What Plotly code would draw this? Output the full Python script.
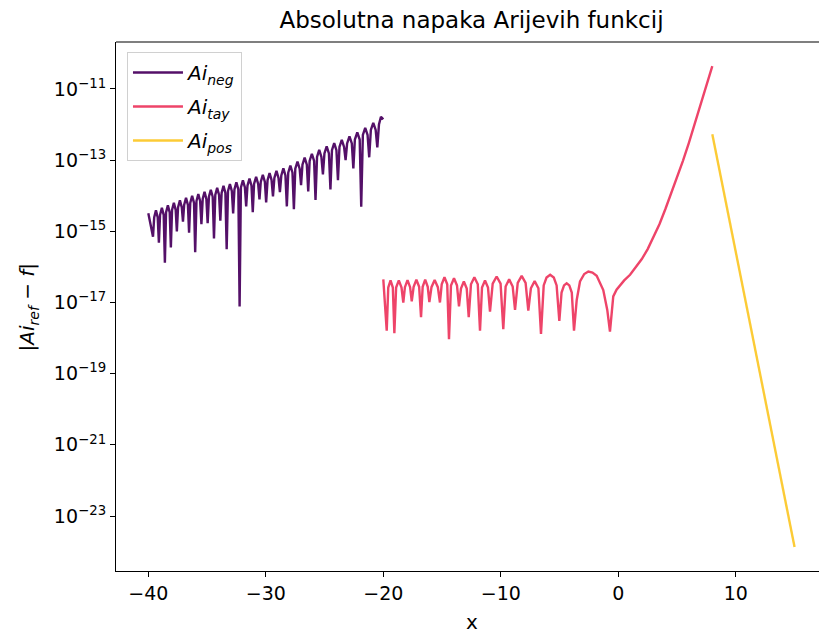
import plotly.graph_objects as go

# ---------------- data (log10 of absolute error) ----------------
neg_x = [-40.00, -39.60,
         -39.50, -39.35, -39.20, -39.10,
         -39.00, -38.845, -38.69, -38.59,
         -38.49, -38.335, -38.18, -38.08,
         -37.98, -37.825, -37.67, -37.57,
         -37.47, -37.31, -37.15, -37.05,
         -36.95, -36.79, -36.63, -36.53,
         -36.43, -36.27, -36.11, -36.01,
         -35.90, -35.745, -35.59, -35.48,
         -35.37, -35.215, -35.06, -34.95,
         -34.84, -34.68, -34.52, -34.41,
         -34.30, -34.14, -33.98, -33.87,
         -33.76, -33.60, -33.44, -33.33,
         -33.22, -33.055, -32.89, -32.78,
         -32.67, -32.505, -32.34, -32.23,
         -32.12, -31.95, -31.78, -31.67,
         -31.56, -31.39, -31.22, -31.11,
         -31.00, -30.825, -30.65, -30.54,
         -30.43, -30.255, -30.08, -29.97,
         -29.85, -29.68, -29.51, -29.39,
         -29.27, -29.095, -28.92, -28.80,
         -28.68, -28.505, -28.33, -28.21,
         -28.09, -27.91, -27.73, -27.61,
         -27.49, -27.305, -27.12, -27.00,
         -26.88, -26.695, -26.51, -26.39,
         -26.27, -26.08, -25.89, -25.77,
         -25.64, -25.455, -25.27, -25.14,
         -25.01, -24.82, -24.63, -24.50,
         -24.37, -24.18, -23.99, -23.86,
         -23.73, -23.535, -23.34, -23.21,
         -23.08, -22.88, -22.68, -22.55,
         -22.42, -22.215, -22.01, -21.88,
         -21.74, -21.54, -21.34, -21.20,
         -21.06, -20.855, -20.65, -20.51,
         -20.37, -20.20, -20.00]
neg_logy = [-14.49, -15.15,
            -14.61, -14.41, -14.61, -15.32,
            -14.54, -14.34, -14.54, -15.88,
            -14.47, -14.27, -14.47, -15.45,
            -14.40, -14.20, -14.40, -15.00,
            -14.33, -14.13, -14.33, -14.73,
            -14.26, -14.06, -14.26, -15.04,
            -14.20, -14.00, -14.20, -15.59,
            -14.15, -13.95, -14.15, -14.80,
            -14.09, -13.89, -14.09, -14.77,
            -14.03, -13.83, -14.03, -15.20,
            -13.98, -13.78, -13.98, -14.70,
            -13.92, -13.72, -13.92, -15.50,
            -13.87, -13.67, -13.87, -14.50,
            -13.82, -13.62, -13.82, -17.11,
            -13.77, -13.57, -13.77, -14.30,
            -13.72, -13.52, -13.72, -14.46,
            -13.67, -13.47, -13.67, -14.10,
            -13.61, -13.41, -13.61, -14.19,
            -13.56, -13.36, -13.56, -14.02,
            -13.50, -13.30, -13.50, -13.90,
            -13.43, -13.23, -13.43, -14.30,
            -13.35, -13.15, -13.35, -14.38,
            -13.24, -13.04, -13.24, -13.70,
            -13.13, -12.93, -13.13, -13.88,
            -13.02, -12.82, -13.02, -14.12,
            -12.91, -12.71, -12.91, -13.40,
            -12.81, -12.61, -12.81, -13.82,
            -12.72, -12.52, -12.72, -13.56,
            -12.63, -12.43, -12.63, -13.00,
            -12.53, -12.33, -12.53, -13.23,
            -12.42, -12.22, -12.42, -14.31,
            -12.29, -12.09, -12.29, -12.92,
            -12.15, -11.95, -12.15, -12.64,
            -12.00, -11.78, -11.85]

tay_x = [-20.00, -19.71,
         -19.58, -19.385, -19.19, -19.06,
         -18.91, -18.68, -18.45, -18.30,
         -18.16, -17.94, -17.72, -17.58,
         -17.42, -17.185, -16.95, -16.79,
         -16.65, -16.435, -16.22, -16.08,
         -15.90, -15.63, -15.36, -15.18,
         -15.03, -14.795, -14.56, -14.41,
         -14.24, -13.985, -13.73, -13.56,
         -13.39, -13.145, -12.90, -12.73,
         -12.54, -12.25, -11.96, -11.77,
         -11.60, -11.345, -11.09, -10.92,
         -10.69, -10.355, -10.02, -9.79,
         -9.59, -9.29, -8.99, -8.79,
         -8.56, -8.225, -7.89, -7.66,
         -7.44, -7.12, -6.80, -6.58,
         -6.35, -6.11, -5.80, -5.49, -5.25, -5.02,
         -4.83, -4.62, -4.395, -4.17, -3.96, -3.77,
         -3.54, -3.26, -2.90, -2.55, -2.20, -1.84, -1.28, -0.94, -0.71,
         -0.43, -0.15, 0.14, 0.50, 1.00, 1.50, 2.00, 2.50, 3.00, 3.50, 4.00,
         4.50, 5.00, 5.50, 6.00, 6.50, 7.00, 7.50, 8.00]
tay_logy = [-16.35, -17.79,
            -16.58, -16.38, -16.58, -17.86,
            -16.58, -16.38, -16.58, -17.00,
            -16.57, -16.37, -16.57, -16.97,
            -16.56, -16.36, -16.56, -17.41,
            -16.56, -16.36, -16.56, -16.99,
            -16.57, -16.37, -16.57, -17.00,
            -16.49, -16.29, -16.49, -18.03,
            -16.52, -16.32, -16.52, -17.11,
            -16.61, -16.41, -16.61, -17.41,
            -16.49, -16.29, -16.49, -17.79,
            -16.58, -16.38, -16.58, -17.26,
            -16.47, -16.27, -16.47, -17.75,
            -16.55, -16.35, -16.55, -17.21,
            -16.45, -16.25, -16.45, -17.23,
            -16.60, -16.40, -16.60, -17.88,
            -16.52, -16.30, -16.22, -16.30, -16.52, -17.52,
            -16.72, -16.52, -16.46, -16.52, -16.72, -17.79,
            -16.93, -16.41, -16.20, -16.13, -16.16, -16.25, -16.65, -17.21, -17.82,
            -16.83, -16.64, -16.51, -16.38, -16.22, -16.01, -15.78, -15.50, -15.17, -14.80, -14.38,
            -13.94, -13.48, -13.02, -12.52, -11.98, -11.44, -10.90, -10.36]

pos_x = [8.00, 15.00]
pos_logy = [-12.27, -23.87]

ytick_exp = [-11, -13, -15, -17, -19, -21, -23]
xtick_vals = [-40, -30, -20, -10, 0, 10]

series_names = ["<i>Ai</i><sub><i>neg</i></sub>",
                "<i>Ai</i><sub><i>tay</i></sub>",
                "<i>Ai</i><sub><i>pos</i></sub>"]
colors = ["#541068", "#ee4469", "#fccb36"]

FONT = "DejaVu Sans"

fig = go.Figure()
for i, (xs, ly) in enumerate([(neg_x, neg_logy), (tay_x, tay_logy), (pos_x, pos_logy)]):
    fig.add_trace(go.Scatter(
        x=xs, y=[10 ** v for v in ly], mode="lines", name=series_names[i],
        line=dict(color=colors[i], width=2.4), legendgroup=str(i)))

fig.update_layout(
    width=819, height=634,
    margin=dict(l=116, r=0, t=42, b=63),
    paper_bgcolor="white", plot_bgcolor="white",
    font=dict(family=FONT, size=19, color="black"),
    showlegend=True,
    legend=dict(x=0.0156, y=0.981, xanchor="left", yanchor="top",
                bgcolor="rgba(255,255,255,0.8)", bordercolor="#d0d0d0", borderwidth=1,
                font=dict(family=FONT, size=20), tracegroupgap=5, itemwidth=50),
    title=dict(text="Absolutna napaka Arijevih funkcij", x=0.5057, xref="paper",
               xanchor="center", y=1 - 20 / 634, yref="container", yanchor="middle",
               font=dict(family=FONT, size=23)),
    annotations=[
        dict(text="x", xref="paper", yref="paper", x=0.5057, y=-0.0964,
             xanchor="center", yanchor="middle", showarrow=False,
             font=dict(family=FONT, size=20)),
        dict(text="|<i>Ai</i><sub><i>ref</i></sub> − <i>f</i>|", xref="paper", yref="paper",
             x=-0.1252, y=0.5, xanchor="center", yanchor="middle", textangle=-90,
             showarrow=False, font=dict(family=FONT, size=20)),
    ],
    shapes=[dict(type="line", xref="paper", yref="paper", x0=0, x1=1, y0=1, y1=1,
                 line=dict(color="black", width=1.2))],
)
fig.update_xaxes(range=[-42.75, 17.08], showgrid=False, zeroline=False,
                 showline=True, linecolor="black", linewidth=1.2, mirror=False,
                 ticks="outside", ticklen=5, tickwidth=1.2, tickcolor="black",
                 tickvals=xtick_vals,
                 ticktext=[str(v).replace("-", "−") for v in xtick_vals],
                 tickfont=dict(family=FONT, size=19))
fig.update_yaxes(type="log", range=[-24.545, -9.68], showgrid=False, zeroline=False,
                 showline=True, linecolor="black", linewidth=1.2, mirror=False,
                 ticks="outside", ticklen=5, tickwidth=1.2, tickcolor="black",
                 tickvals=[10 ** e for e in ytick_exp],
                 ticktext=["10<sup>−%d</sup>" % (-e) for e in ytick_exp],
                 tickfont=dict(family=FONT, size=19))

fig.write_html("out.html", config={"displayModeBar": False},
               post_script="document.body.style.margin='0';")
